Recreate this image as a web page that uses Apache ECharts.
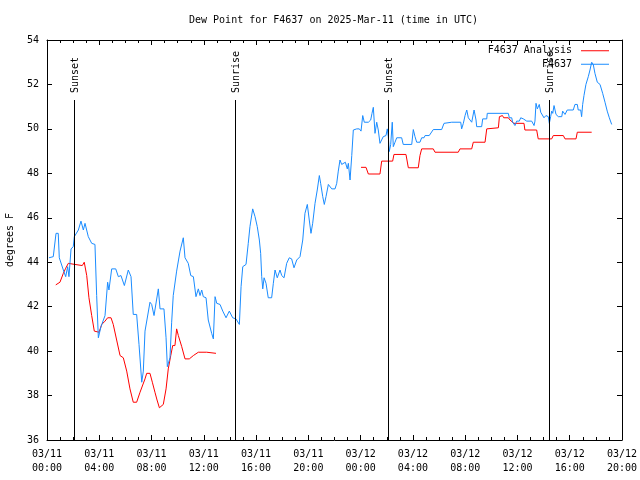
<!DOCTYPE html>
<html>
<head>
<meta charset="utf-8">
<script src="https://cdn.jsdelivr.net/npm/echarts@6/dist/echarts.min.js"></script>
<style>html,body{margin:0;padding:0;background:#fff}#c{width:640px;height:480px}</style>
</head>
<body>
<div id="c"></div>
<script>
// Hours since 2025-03-11 00:00 UTC
const titleText = 'Dew Point for F4637 on 2025-Mar-11 (time in UTC)';
const xTickLabels = ['03/11\n00:00','03/11\n04:00','03/11\n08:00','03/11\n12:00','03/11\n16:00','03/11\n20:00','03/12\n00:00','03/12\n04:00','03/12\n08:00','03/12\n12:00','03/12\n16:00','03/12\n20:00'];
const seriesNames = ['F4637 Analysis', 'F4637'];

const obsHours = [0.15,0.48,0.69,0.86,0.94,1.25,1.43,1.58,1.68,1.84,2.01,2.09,2.40,2.60,2.78,2.91,3.16,3.42,3.67,3.80,3.93,4.13,4.44,4.64,4.74,4.95,5.26,5.46,5.66,5.92,6.22,6.43,6.60,6.86,7.04,7.25,7.37,7.50,7.88,8.01,8.19,8.52,8.65,8.95,9.11,9.21,9.41,9.54,9.66,9.92,10.18,10.43,10.56,10.81,11.00,11.20,11.40,11.58,11.71,11.84,11.96,12.17,12.34,12.60,12.73,12.86,12.99,13.24,13.45,13.70,13.95,14.21,14.46,14.72,14.85,14.98,15.23,15.40,15.53,15.74,15.92,16.09,16.25,16.35,16.43,16.51,16.61,16.76,16.93,17.19,17.32,17.45,17.62,17.83,17.96,18.14,18.34,18.54,18.72,18.90,19.11,19.36,19.57,19.74,19.92,20.07,20.20,20.33,20.51,20.68,20.84,20.94,21.10,21.22,21.35,21.53,21.79,22.04,22.17,22.29,22.42,22.55,22.67,22.83,22.98,23.06,23.19,23.32,23.44,23.70,23.90,24.03,24.16,24.28,24.59,24.77,24.87,24.97,25.10,25.23,25.35,25.48,25.61,25.73,25.94,26.04,26.12,26.19,26.30,26.42,26.50,26.63,26.76,27.14,27.26,27.91,28.03,28.16,28.29,28.54,28.67,28.85,28.93,29.25,29.56,30.20,30.38,30.97,31.66,31.73,31.86,31.99,32.12,32.24,32.37,32.50,32.68,32.83,32.88,33.26,33.34,33.65,33.69,35.30,35.38,35.56,35.63,35.73,35.81,35.94,36.14,36.25,36.45,36.71,37.09,37.21,37.27,37.34,37.42,37.52,37.67,37.78,37.93,38.03,38.18,38.36,38.44,38.54,38.62,38.70,38.80,38.95,39.13,39.39,39.46,39.64,39.81,40.27,40.40,40.58,40.65,40.84,40.91,40.99,41.09,41.24,41.42,41.55,41.68,41.80,41.93,42.11,42.32,42.52,42.70,42.87,43.03,43.21];
const obsValues = [44.2,44.25,45.3,45.3,44.2,43.65,43.35,43.8,43.35,44.6,44.7,45.15,45.45,45.85,45.45,45.75,45.15,44.85,44.8,42.5,40.6,41.1,41.6,43.1,42.75,43.7,43.7,43.35,43.4,42.95,43.65,43.35,41.65,41.65,40.3,38.6,39.1,40.9,42.2,42.1,41.6,42.8,41.9,41.9,40.6,39.3,39.7,41.3,42.5,43.6,44.5,45.1,44.2,43.95,43.4,43.35,42.45,42.8,42.5,42.75,42.45,42.4,41.4,40.8,40.55,42.45,42.15,42.1,41.8,41.5,41.8,41.5,41.45,41.2,42.9,43.8,43.9,44.85,45.6,46.4,46.05,45.6,45.0,44.4,43.35,42.8,43.3,43.05,42.4,42.4,43.05,43.65,43.3,43.65,43.4,43.3,43.95,44.2,44.15,43.75,44.1,44.25,45.0,46.2,46.6,45.9,45.3,45.75,46.65,47.25,47.9,47.55,46.95,46.6,46.95,47.5,47.3,47.3,47.55,48.1,48.6,48.4,48.4,48.5,48.2,48.45,47.7,48.8,49.95,50.0,50.0,49.9,50.6,50.3,50.3,50.4,50.7,50.97,49.8,50.3,49.95,49.35,49.4,49.65,49.7,50.0,49.65,48.98,49.3,50.3,49.2,49.4,49.6,49.6,49.3,49.3,49.97,49.65,49.4,49.4,49.6,49.6,49.7,49.7,49.97,49.97,50.25,50.3,50.3,50.0,50.25,50.6,50.85,50.5,50.55,50.3,50.85,50.4,50.1,50.1,50.45,50.45,50.7,50.7,50.5,50.5,50.3,50.35,50.15,50.35,50.35,50.5,50.45,50.35,50.35,50.3,50.15,50.35,51.15,50.9,51.1,50.75,50.75,50.5,50.6,50.55,50.25,50.55,50.8,50.7,51.05,50.65,50.55,50.55,50.8,50.65,50.85,50.85,51.1,51.1,50.85,50.85,50.55,51.1,51.5,52.0,52.35,52.65,53.0,52.9,52.5,52.1,52.0,51.6,51.2,50.8,50.5,50.2];

const anaHours = [0.67,0.82,0.99,1.25,1.43,1.63,2.14,2.70,2.85,3.04,3.21,3.42,3.62,3.98,4.19,4.44,4.64,4.90,5.07,5.33,5.59,5.84,6.10,6.35,6.60,6.86,7.12,7.50,7.63,7.88,8.06,8.26,8.42,8.60,8.90,9.11,9.28,9.47,9.62,9.79,9.92,10.05,10.31,10.56,10.89,11.20,11.58,12.22,12.34,12.93,18.0,24.03,24.41,24.59,25.48,25.61,26.45,26.55,27.47,27.65,28.41,28.54,28.67,29.56,29.69,31.47,31.60,32.50,32.62,33.52,33.65,34.54,34.62,34.85,34.95,35.30,35.43,35.73,36.50,36.57,37.47,37.59,38.62,38.74,39.51,39.64,40.48,40.58,41.68];
const anaValues = [42.98,42.9,43.1,43.5,43.73,43.95,43.9,43.85,44.0,43.4,42.4,41.6,40.9,40.85,41.2,41.35,41.5,41.5,41.2,40.5,39.8,39.7,39.1,38.3,37.7,37.7,38.15,38.75,39.0,39.0,38.6,38.15,37.8,37.45,37.6,38.3,39.2,39.8,40.25,40.25,41.0,40.7,40.2,39.65,39.65,39.8,39.95,39.95,39.9,39.9,null,48.27,48.27,47.97,47.97,48.55,48.55,48.85,48.85,48.25,48.25,48.8,49.1,49.1,48.95,48.95,49.1,49.1,49.4,49.4,50.0,50.05,50.55,50.6,50.5,50.5,50.4,50.25,50.25,49.95,49.95,49.55,49.55,49.7,49.7,49.55,49.55,49.85,49.85];

const sunHours = [2.08, 14.42, 26.12, 38.43];
const sunLabels = ['Sunset', 'Sunrise', 'Sunset', 'Sunrise'];
const sunLineTop = 51.3;

const FONT = 'DejaVu Sans Mono';
const zip = (a, b) => a.map((h, i) => [h, b[i]]);

const chart = echarts.init(document.getElementById('c'), null, {renderer: 'canvas'});
const baseX = {
  type: 'value', min: 0, max: 44, interval: 4,
  axisLine: {show: true, onZero: false, lineStyle: {color: '#000', width: 1}},
  axisTick: {show: true, inside: true, length: 5, lineStyle: {color: '#000'}},
  minorTick: {show: true, splitNumber: 4, length: 3, lineStyle: {color: '#000'}},
  splitLine: {show: false}, minorSplitLine: {show: false}
};
const baseY = {
  type: 'value', min: 36, max: 54, interval: 2,
  axisLine: {show: true, onZero: false, lineStyle: {color: '#000', width: 1}},
  axisTick: {show: true, inside: true, length: 5, lineStyle: {color: '#000'}},
  splitLine: {show: false}
};
const option = {
  animation: false,
  backgroundColor: '#fff',
  title: {
    text: titleText, left: 189, top: 15, padding: 0,
    textStyle: {fontFamily: FONT, fontSize: 10, fontWeight: 'normal', color: '#000'}
  },
  legend: {
    orient: 'vertical', right: 31, top: 44, padding: 0, itemGap: 0,
    align: 'right', itemWidth: 28, itemHeight: 1, icon: 'rect',
    textStyle: {fontFamily: FONT, fontSize: 10, color: '#000', lineHeight: 13.5, padding: [0, 4, 0, 0]},
    data: seriesNames
  },
  grid: {left: 47, right: 18, top: 40, bottom: 40, containLabel: false, outerBoundsMode: 'none'},
  xAxis: [
    Object.assign({}, baseX, {
      position: 'bottom',
      axisLabel: {
        margin: 7, fontFamily: FONT, fontSize: 10, color: '#000', lineHeight: 14,
        formatter: v => xTickLabels[Math.round(v / 4)]
      }
    }),
    Object.assign({}, baseX, {position: 'top', axisLabel: {show: false}})
  ],
  yAxis: [
    Object.assign({}, baseY, {
      position: 'left',
      name: 'degrees F', nameLocation: 'middle', nameRotate: 90, nameGap: 32,
      nameTextStyle: {fontFamily: FONT, fontSize: 10, color: '#000'},
      axisLabel: {margin: 8, fontFamily: FONT, fontSize: 10, color: '#000'}
    }),
    Object.assign({}, baseY, {position: 'right', axisLabel: {show: false}})
  ],
  series: [
    {
      name: seriesNames[0], type: 'line', data: zip(anaHours, anaValues),
      showSymbol: false, symbol: 'none', connectNulls: false,
      lineStyle: {color: '#ff0000', width: 1}, itemStyle: {color: '#ff0000'}, z: 3
    },
    {
      name: seriesNames[1], type: 'line', data: zip(obsHours, obsValues),
      showSymbol: false, symbol: 'none',
      lineStyle: {color: '#1a8cff', width: 1}, itemStyle: {color: '#1a8cff'}, z: 4
    },
    {
      type: 'custom', clip: false, z: 5, silent: true,
      data: sunHours.map((h, i) => [h, sunLineTop, i]),
      renderItem: (params, api) => {
        const t = api.value(0);
        const top = api.coord([t, api.value(1)]);
        const bot = api.coord([t, 36]);
        const idx = api.value(2);
        return {
          type: 'group',
          children: [
            {type: 'line', shape: {x1: Math.round(top[0]) + 0.5, y1: top[1], x2: Math.round(top[0]) + 0.5, y2: bot[1]},
             style: {stroke: '#000', lineWidth: 1}},
            {type: 'text', x: Math.round(top[0]) + 1, y: top[1] - 7, rotation: Math.PI / 2,
             style: {text: sunLabels[idx], fontFamily: FONT, fontSize: 10, fill: '#000', align: 'left', verticalAlign: 'middle'}}
          ]
        };
      }
    }
  ]
};
chart.setOption(option);
</script>
</body>
</html>
